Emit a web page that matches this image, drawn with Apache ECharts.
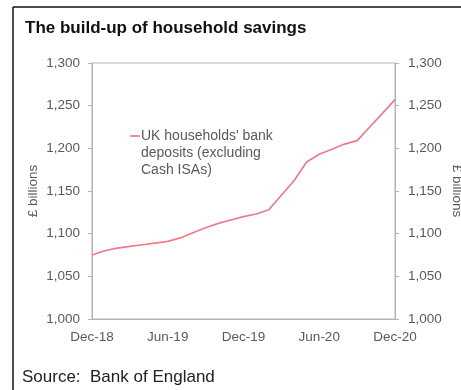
<!DOCTYPE html>
<html>
<head>
<meta charset="utf-8">
<script src="https://cdn.jsdelivr.net/npm/echarts@6/dist/echarts.min.js"></script>
<style>
  html, body { margin: 0; padding: 0; background: #fff; }
  #chart { width: 461px; height: 390px; }
</style>
</head>
<body>
<div id="chart"></div>
<script>
// Monthly observations, Dec-18 to Dec-20
const months = [
  'Dec-18','Jan-19','Feb-19','Mar-19','Apr-19','May-19','Jun-19','Jul-19','Aug-19','Sep-19','Oct-19','Nov-19',
  'Dec-19','Jan-20','Feb-20','Mar-20','Apr-20','May-20','Jun-20','Jul-20','Aug-20','Sep-20','Oct-20','Nov-20','Dec-20'
];
// UK households' bank deposits excluding Cash ISAs, £ billions
const deposits = [
  1075, 1080, 1083, 1085, 1087, 1089, 1091, 1095, 1101, 1107, 1112, 1116,
  1120, 1123, 1128, 1145, 1162, 1184, 1193, 1199, 1205, 1209, 1225, 1241, 1257
];
const seriesName = "UK households' bank\ndeposits (excluding\nCash ISAs)";
const yMin = 1000, yMax = 1300, yStep = 50;

const font = 'Liberation Sans, Arial, sans-serif';
const grey = '#5a5a5a';
const axisGrey = '#b3b3b3';
const pink = '#ec7b8c';
const labelSize = 13.5;

const fmt = v => v.toLocaleString('en-GB');

const yAxisBase = {
  type: 'value', min: yMin, max: yMax, interval: yStep,
  splitLine: { show: false },
  axisLine: { show: true, lineStyle: { color: axisGrey, width: 1 } },
  axisTick: { show: true, inside: false, length: 4, lineStyle: { color: axisGrey } },
  nameLocation: 'middle',
  nameMoveOverlap: false,
  nameTextStyle: { color: grey, fontFamily: font, fontSize: labelSize }
};

const chart = echarts.init(document.getElementById('chart'), null, { renderer: 'canvas' });
chart.setOption({
  animation: false,
  backgroundColor: '#fff',
  title: {
    text: 'The build-up of household savings',
    left: 20, top: 15,
    textStyle: { fontFamily: font, fontSize: 17, fontWeight: 'bold', color: '#111' }
  },
  grid: {
    left: 92, right: 66, top: 63, bottom: 71,
    containLabel: false, outerBoundsMode: 'none',
    show: true, borderColor: axisGrey, borderWidth: 1
  },
  xAxis: {
    type: 'category', data: months, boundaryGap: false,
    axisLine: { show: true, lineStyle: { color: axisGrey } },
    axisTick: { show: false },
    axisLabel: { interval: 5, color: grey, fontFamily: font, fontSize: labelSize, margin: 11 },
    splitLine: { show: false }
  },
  yAxis: [
    Object.assign({}, yAxisBase, {
      position: 'left', name: '£ billions', nameRotate: 90, nameGap: 52,
      axisLabel: { color: grey, fontFamily: font, fontSize: labelSize, margin: 12, formatter: fmt }
    }),
    Object.assign({}, yAxisBase, {
      position: 'right', name: '£ billions', nameRotate: -90, nameGap: 55,
      axisLabel: { color: grey, fontFamily: font, fontSize: labelSize, margin: 13, formatter: fmt }
    })
  ],
  series: [{
    name: seriesName, type: 'line', data: deposits, yAxisIndex: 0,
    symbol: 'none', smooth: false,
    lineStyle: { color: pink, width: 1.7 },
    itemStyle: { color: pink }
  }],
  graphic: [
    // frame along the top and left edges
    { type: 'line', shape: { x1: 13, y1: 7, x2: 461, y2: 7 }, style: { stroke: '#111', lineWidth: 1.5 } },
    { type: 'line', shape: { x1: 13, y1: 7, x2: 13, y2: 390 }, style: { stroke: '#111', lineWidth: 1.5 } },
    // series key placed inside the plot, dash beside the first line of text
    { type: 'line', shape: { x1: 130, y1: 136, x2: 140, y2: 136 }, style: { stroke: pink, lineWidth: 1.7 } },
    { type: 'text', left: 141, top: 127.5,
      style: { text: seriesName, fontFamily: font, fontSize: 14, lineHeight: 17, fill: grey } },
    { type: 'text', left: 22, top: 369,
      style: { text: 'Source:  Bank of England', fontFamily: font, fontSize: 17, fill: '#222' } }
  ]
});
</script>
</body>
</html>
